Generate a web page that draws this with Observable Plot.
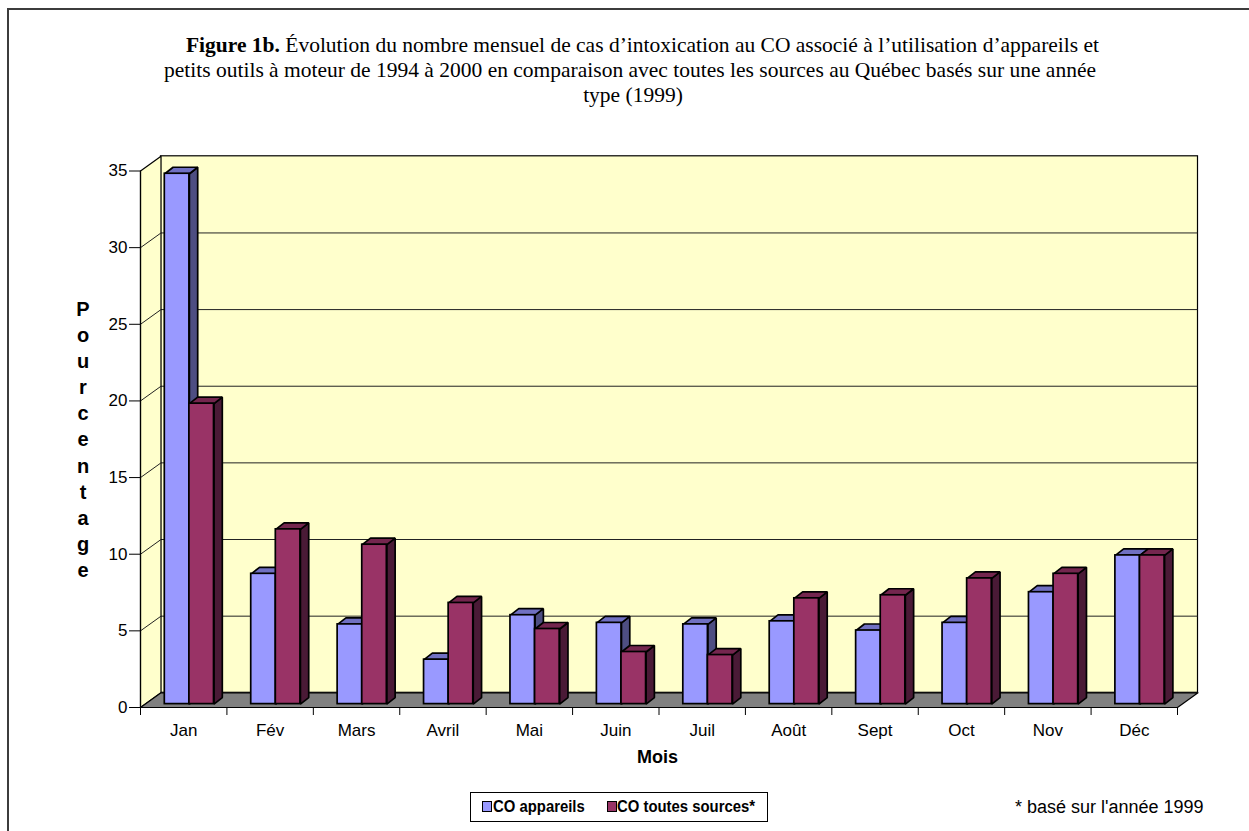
<!DOCTYPE html>
<html><head><meta charset="utf-8">
<script src="https://cdn.jsdelivr.net/npm/d3@7"></script>
<script src="https://cdn.jsdelivr.net/npm/@observablehq/plot@0.6"></script>
<style>
body{margin:0;background:#fff;}
#wrap{position:relative;width:1249px;height:831px;overflow:hidden;font-family:"Liberation Sans",Arial,sans-serif;color:#000;}
#frame{position:absolute;left:7px;top:8px;width:1300px;height:900px;border-left:2px solid #3c3c3c;border-top:2px solid #3c3c3c;}
.tl{position:absolute;width:1000px;text-align:center;font-family:"Liberation Serif","Times New Roman",serif;font-size:21.5px;line-height:21.5px;white-space:nowrap;}
#ylab{position:absolute;left:63px;top:296px;width:40px;text-align:center;font-weight:bold;font-size:20px;line-height:26.1px;}
#xlab{position:absolute;left:557.5px;top:748px;width:200px;text-align:center;font-weight:bold;font-size:18px;line-height:18px;}
#legend{position:absolute;left:470px;top:792px;width:296px;height:28px;border:1px solid #000;}
.sw{position:absolute;width:8px;height:9px;border:1px solid #000;top:8px;}
.lt{position:absolute;top:5px;font-weight:bold;font-size:17px;line-height:17px;white-space:nowrap;transform:scaleX(0.875);transform-origin:0 50%;}
#foot{position:absolute;left:1015px;top:798px;font-size:18px;line-height:18px;white-space:nowrap;}
svg{position:absolute;left:0;top:0;}
</style></head><body><div id="wrap">
<div id="frame"></div>
<div class="tl" style="left:142.5px;top:34.7px"><b>Figure 1b.</b> Évolution du nombre mensuel de cas d’intoxication au CO associé à l’utilisation d’appareils et</div>
<div class="tl" style="left:130px;top:59.7px">petits outils à moteur de 1994 à 2000 en comparaison avec toutes les sources au Québec basés sur une année</div>
<div class="tl" style="left:133px;top:84.7px">type (1999)</div>
<div id="ylab"></div>
<div id="xlab">Mois</div>
<div id="legend">
  <div class="sw" style="left:11px;background:#9999FF"></div><div class="lt" style="left:22px">CO appareils</div>
  <div class="sw" style="left:136px;background:#993366"></div><div class="lt" style="left:146px">CO toutes sources*</div>
</div>
<div id="foot">* basé sur l'année 1999</div>
<div id="chart"></div>
</div>
<script>
const months = ["Jan","Fév","Mars","Avril","Mai","Juin","Juil","Août","Sept","Oct","Nov","Déc"];
const coAppareils = [34.6, 8.5, 5.2, 2.9, 5.8, 5.3, 5.2, 5.4, 4.8, 5.3, 7.3, 9.7];
const coToutesSources = [19.6, 11.4, 10.4, 6.6, 4.9, 3.4, 3.2, 6.9, 7.1, 8.2, 8.5, 9.7];
const yTicks = [0, 5, 10, 15, 20, 25, 30, 35];
const yTitle = "Pourcentage";

document.getElementById("ylab").innerHTML = yTitle.split("").join("<br>");

const W = 1249, H = 831, mL = 140, mR = 72, mT = 170.5, mB = 124;
const n = months.length, yMax = yTicks[yTicks.length - 1];
const kx = (W - mL - mR) / n, ky = (H - mT - mB) / yMax;
const px = v => v / kx, py = v => v / ky;
const wallDx = px(20.5), wallDy = py(14.7);
const barDx = px(8.3), barDy = py(6.5);
const barOff = px(24.3), barW = px(24.6);
const baseDy = -3.4;

const series = [
  {values: coAppareils, front: "#9999FF", top: "#7070C2", side: "#4E4E82"},
  {values: coToutesSources, front: "#993366", top: "#74264E", side: "#4A1A36"}
];

const barMarks = [];
series.forEach((s, k) => {
  const fronts = [], tops = [], sides = [];
  s.values.forEach((v, i) => {
    const x1 = i + barOff + k * barW, x2 = x1 + barW;
    fronts.push({x1, x2, v, month: months[i]});
    const id = k + "-" + i;
    tops.push({id, x: x1, y: v}, {id, x: x2, y: v}, {id, x: x2 + barDx, y: v + barDy}, {id, x: x1 + barDx, y: v + barDy});
    sides.push({id, x: x2, y: 0}, {id, x: x2, y: v}, {id, x: x2 + barDx, y: v + barDy}, {id, x: x2 + barDx, y: barDy});
  });
  const common = {x: "x", y: "y", z: "id", stroke: "#000", strokeWidth: 1.7, curve: "linear-closed", dy: baseDy, strokeLinejoin: "miter"};
  barMarks.push(
    Plot.line(sides, {...common, fill: s.side}),
    Plot.line(tops, {...common, fill: s.top}),
    Plot.rectY(fronts, {x1: "x1", x2: "x2", y1: 0, y2: "v", dy: baseDy, fill: s.front, stroke: "#000", strokeWidth: 1.7})
  );
});

const leftWall = [{x: 0, y: 0}, {x: 0, y: yMax}, {x: wallDx, y: yMax + wallDy}, {x: wallDx, y: wallDy}];
const floor = [{x: 0, y: 0}, {x: n, y: 0}, {x: n + wallDx, y: wallDy}, {x: wallDx, y: wallDy}];
const centers = months.map((m, i) => i + 0.5);

const chart = Plot.plot({
  width: W, height: H,
  marginLeft: mL, marginRight: mR, marginTop: mT, marginBottom: mB,
  x: {type: "linear", domain: [0, n]},
  y: {domain: [0, yMax]},
  style: {background: "transparent", fontFamily: "'Liberation Sans', Arial, sans-serif", fontSize: "17px", color: "#000", overflow: "visible"},
  marks: [
    Plot.rect([0], {x1: 0, x2: n, y1: 0, y2: yMax, dx: 20.5, dy: -14.7, fill: "#FFFFCC", stroke: "#000", strokeWidth: 1.2}),
    Plot.ruleY(yTicks.slice(1, -1), {x1: 0, x2: n, dx: 20.5, dy: -14.7, stroke: "#222", strokeWidth: 1}),
    Plot.line(leftWall, {x: "x", y: "y", fill: "#FFFFCC", stroke: "#000", strokeWidth: 1.2, curve: "linear-closed"}),
    Plot.link(yTicks.slice(1, -1), {x1: 0, y1: d => d, x2: wallDx, y2: d => d + wallDy, stroke: "#222", strokeWidth: 1}),
    Plot.line(floor, {x: "x", y: "y", fill: "#808080", stroke: "#000", strokeWidth: 1.2, curve: "linear-closed"}),
    ...barMarks,
    Plot.ruleX([0], {y1: 0, y2: yMax, stroke: "#000", strokeWidth: 1.2}),
    Plot.ruleY([0], {x1: 0, x2: n, stroke: "#000", strokeWidth: 1.2}),
    Plot.axisY({ticks: yTicks, tickSize: 11, tickPadding: 2, label: null, fontSize: 17}),
    Plot.axisX({ticks: d3.range(n + 1), tickSize: 8, tickFormat: () => "", label: null}),
    Plot.axisX({ticks: centers, tickSize: 0, tickPadding: 16, tickFormat: d => months[Math.floor(d)], label: null, fontSize: 17})
  ]
});
document.getElementById("chart").appendChild(chart);
</script>
</body></html>
